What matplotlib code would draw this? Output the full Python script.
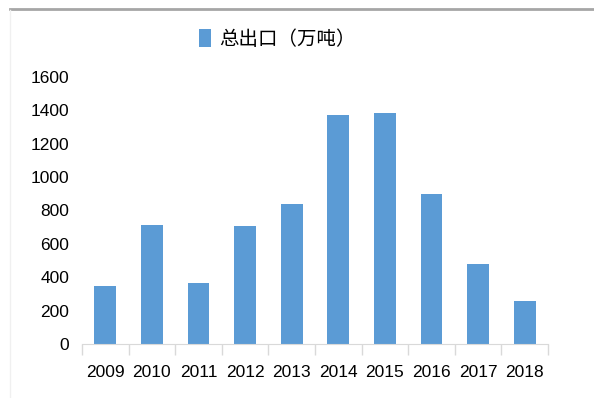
import matplotlib.pyplot as plt
from matplotlib.lines import Line2D

plt.rcParams['font.family'] = ['Liberation Sans', 'Noto Sans CJK SC', 'DejaVu Sans']

years = ['2009', '2010', '2011', '2012', '2013', '2014', '2015', '2016', '2017', '2018']
exports = [350, 712, 367, 706, 840, 1370, 1382, 898, 479, 257]
series_name = '总出口（万吨）'
y_ticks = [0, 200, 400, 600, 800, 1000, 1200, 1400, 1600]

bar_color = '#5B9BD5'
axis_color = '#D9D9D9'

fig = plt.figure(figsize=(5.94, 3.98), dpi=100)
ax = fig.add_axes([0.138, 0.1357, 0.7846, 0.6713])

x = range(len(years))
ax.bar(x, exports, width=0.47, color=bar_color, label=series_name, zorder=2)

ax.set_xlim(-0.5, len(years) - 0.5)
ax.set_ylim(0, 1600)
ax.set_yticks(y_ticks)
ax.set_yticklabels([str(v) for v in y_ticks], fontsize=12.5)
ax.set_xticks(list(x))
ax.set_xticklabels(years, fontsize=12.5)

# category separators below the axis line
ax.set_xticks([i - 0.5 for i in range(len(years) + 1)], minor=True)
ax.tick_params(axis='x', which='major', length=0, pad=15)
ax.tick_params(axis='x', which='minor', length=8, color=axis_color, width=1)
ax.tick_params(axis='y', length=0, pad=9)

for side in ['top', 'right', 'left']:
    ax.spines[side].set_visible(False)
ax.spines['bottom'].set_color(axis_color)

fig.legend(loc='center', bbox_to_anchor=(0.467, 0.902), frameon=False,
           prop={'family': ['Noto Sans CJK SC'], 'size': 14},
           handlelength=0.6, handleheight=1.0, handletextpad=0.4)

# page frame lines
fig.add_artist(Line2D([10 / 594, 1], [1 - 9 / 398, 1 - 9 / 398],
                      color='#A6A6A6', lw=2, transform=fig.transFigure))
fig.add_artist(Line2D([10 / 594, 10 / 594], [0, 1 - 10 / 398],
                      color='#F0F0F0', lw=1, transform=fig.transFigure))

fig.savefig('out.png', dpi=100)
